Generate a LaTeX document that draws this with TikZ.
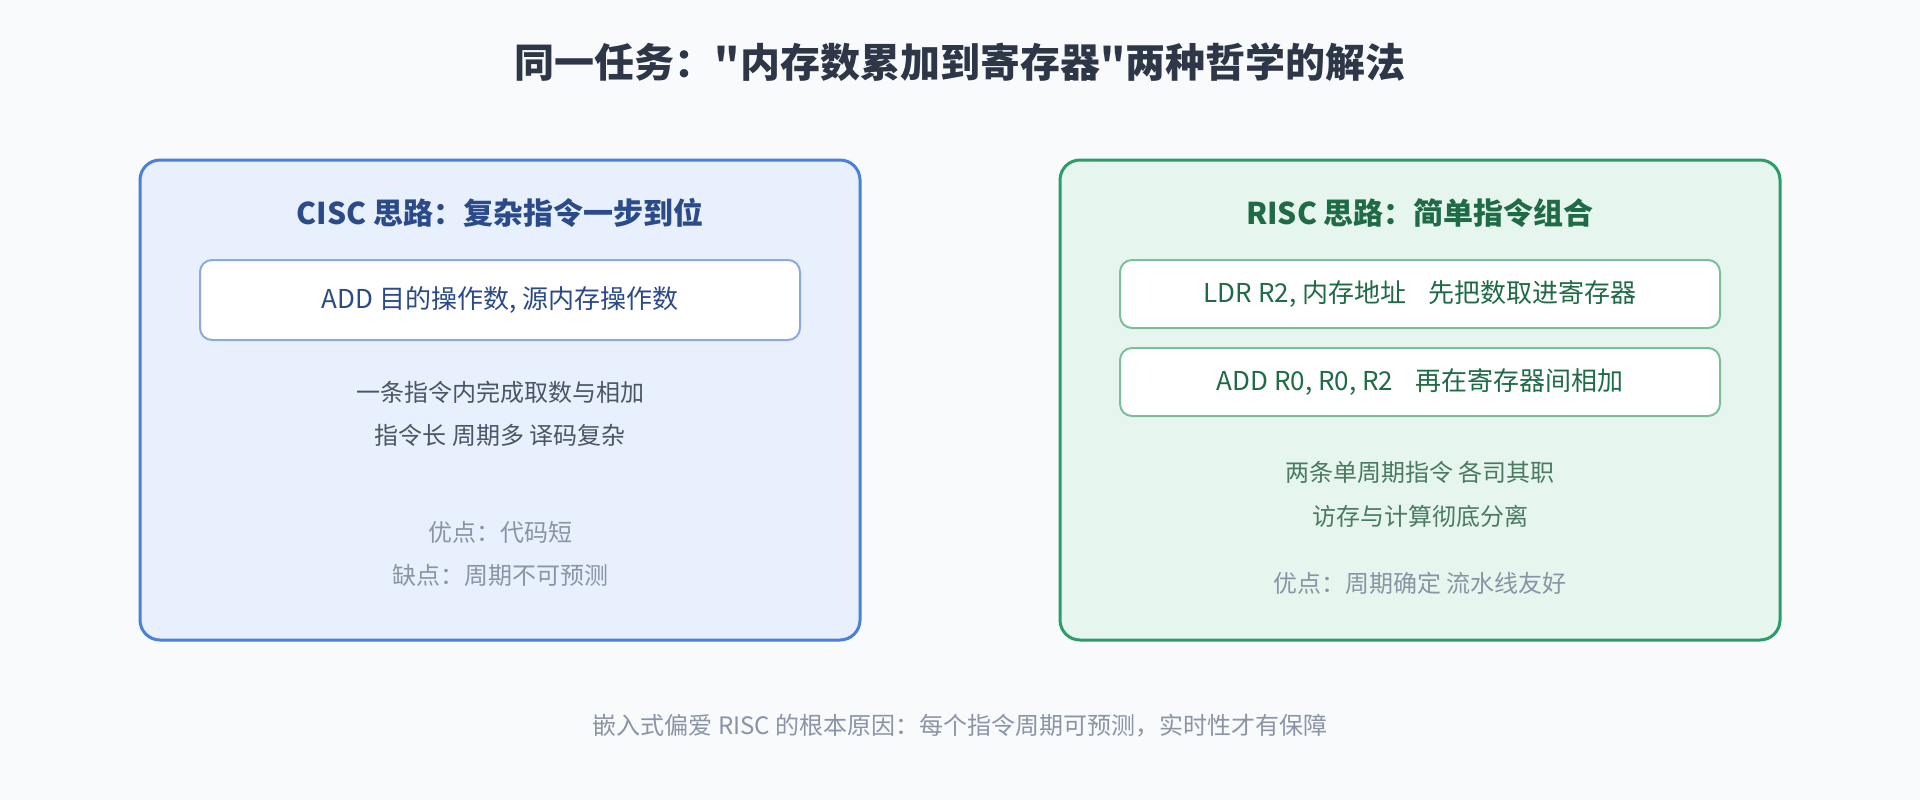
\documentclass[tikz,border=0pt]{standalone}
\usepackage{fontspec}
\setmainfont{Noto Sans CJK SC}[Ligatures=TeXOff]
\usetikzlibrary{positioning}

\definecolor{pagebg}{HTML}{F8FAFC}
\definecolor{headink}{HTML}{2D3748}
\definecolor{ciscline}{HTML}{4A7FDB}
\definecolor{ciscfill}{HTML}{E8F0FD}
\definecolor{ciscedge}{HTML}{8FA8DC}
\definecolor{ciscink}{HTML}{2A4A8A}
\definecolor{riscline}{HTML}{2E9B6A}
\definecolor{riscfill}{HTML}{E6F6EE}
\definecolor{riscedge}{HTML}{7BBF9A}
\definecolor{riscink}{HTML}{1E6B45}
\definecolor{descink}{HTML}{4A5568}
\definecolor{riscdesc}{HTML}{4A7A62}
\definecolor{noteink}{HTML}{8A94A6}

\begin{document}
\begin{tikzpicture}[
    x=1pt, y=-1pt,
    card/.style={rectangle, rounded corners=10pt, line width=1.5pt,
    minimum width=360pt, minimum height=240pt},
    cisc card/.style={card, draw=ciscline, fill=ciscfill},
    risc card/.style={card, draw=riscline, fill=riscfill},
    card title/.style={font=\fontsize{15}{18}\selectfont\bfseries},
    instr/.style={rectangle, rounded corners=6pt, line width=1pt, fill=white,
    minimum width=300pt, font=\fontsize{13}{16}\selectfont},
    desc/.style={font=\fontsize{12}{14}\selectfont},
    note/.style={font=\fontsize{12}{14}\selectfont, text=noteink}
    ]

    % background
    \fill[pagebg] (0,0) rectangle (960,400);

    \node[font=\fontsize{20}{24}\selectfont\bfseries, text=headink] (head) at (480,31)
        {同一任务："内存数累加到寄存器"两种哲学的解法};

    % CISC
    \node[cisc card] (cisc) at (250,200) {};
    \node[card title, text=ciscink] (cisctitle) at (250,106.5) {CISC 思路：复杂指令一步到位};
    \node[instr, draw=ciscedge, text=ciscink, minimum height=40pt] (ciscadd) at (250,150)
        {ADD 目的操作数, 源内存操作数};
    \node[desc, text=descink] (ciscdesca) at (250,196) {一条指令内完成取数与相加};
    \node[desc, text=descink] (ciscdescb) at (250,217.5) {指令长 周期多 译码复杂};
    \node[note] (ciscpro) at (250,266) {优点：代码短};
    \node[note] (cisccon) at (250,287.5) {缺点：周期不可预测};

    % RISC
    \node[risc card] (risc) at (710,200) {};
    \node[card title, text=riscink] (risctitle) at (710,106.5) {RISC 思路：简单指令组合};
    \node[instr, draw=riscedge, text=riscink, minimum height=34pt] (riscldr) at (710,147)
        {LDR R2, 内存地址\hspace{11pt}先把数取进寄存器};
    \node[instr, draw=riscedge, text=riscink, minimum height=34pt] (riscadd) at (710,191)
        {ADD R0, R0, R2\hspace{11pt}再在寄存器间相加};
    \node[desc, text=riscdesc] (riscdesca) at (710,236) {两条单周期指令 各司其职};
    \node[desc, text=riscdesc] (riscdescb) at (710,258) {访存与计算彻底分离};
    \node[note] (riscpro) at (710,291.5) {优点：周期确定 流水线友好};

    % footer
    \node[note] (foot) at (480,363)
        {嵌入式偏爱 RISC 的根本原因：每个指令周期可预测，实时性才有保障};

\end{tikzpicture}
\end{document}
